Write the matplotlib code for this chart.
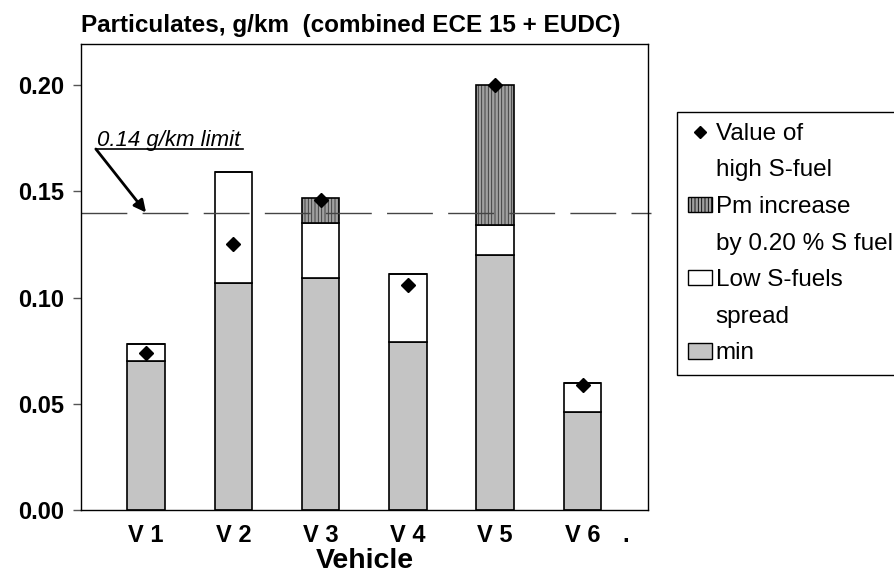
import numpy as np
import matplotlib.pyplot as plt
from matplotlib.patches import Patch
from matplotlib.lines import Line2D

plt.rcParams['font.family'] = ['Liberation Sans', 'DejaVu Sans']
plt.rcParams['hatch.linewidth'] = 0.6

vehicles = ['V 1', 'V 2', 'V 3', 'V 4', 'V 5', 'V 6']
pm_min = [0.070, 0.107, 0.109, 0.079, 0.120, 0.046]
low_s_top = [0.078, 0.159, 0.135, 0.111, 0.134, 0.060]
high_s_top = [0.078, 0.159, 0.147, 0.111, 0.200, 0.060]
high_s_value = [0.074, 0.125, 0.146, 0.106, 0.200, 0.059]
limit = 0.14

x = np.arange(len(vehicles))
pm_min = np.array(pm_min)
spread = np.array(low_s_top) - pm_min
increase = np.maximum(np.array(high_s_top) - np.array(low_s_top), 0)

fig = plt.figure(figsize=(8.95, 5.8), dpi=100)
ax = fig.add_axes([0.0905, 0.1207, 0.6335, 0.8034])

w = 0.43
ax.bar(x, pm_min, w, color='#c4c4c4', edgecolor='black', lw=1.2)
ax.bar(x, spread, w, bottom=pm_min, color='white', edgecolor='black', lw=1.2)
ax.bar(x, increase, w, bottom=pm_min + spread, color='#a0a0a0', edgecolor='#333333',
       hatch='|||||', lw=0)
ax.bar(x, increase, w, bottom=pm_min + spread, fill=False, edgecolor='black', lw=1.2)
ax.plot(x, high_s_value, ls='', marker='D', color='black', ms=7.5, zorder=5)

# 0.14 g/km limit line, a touch past the right spine as in the original
ax.axhline(limit, xmax=1.005, color='#444444', lw=1, dashes=(33, 11), zorder=1, clip_on=False)

ax.annotate('', xy=(0.0, limit), xytext=(-0.575, 0.1699),
            arrowprops=dict(arrowstyle='-|>', color='black', lw=2, mutation_scale=18,
                            shrinkA=0, shrinkB=0))
ax.plot([-0.575, 1.11], [0.1699, 0.1699], color='black', lw=1.2)
ax.text(-0.56, 0.1712, '0.14 g/km limit', fontsize=16, style='italic', va='baseline')

ax.set_xlim(-0.745, 5.75)
ax.set_ylim(0, 0.2193)
ax.set_yticks([0.0, 0.05, 0.10, 0.15, 0.20])
ax.set_yticklabels(['0.00', '0.05', '0.10', '0.15', '0.20'], fontsize=17, fontweight='bold')
ax.set_xticks(x)
ax.set_xticklabels(vehicles, fontsize=17, fontweight='bold')
ax.tick_params(axis='x', length=0, pad=10)
ax.tick_params(axis='y', length=6, color='#555555', width=1, pad=6)
ax.annotate('.', xy=(5.5, 0), xycoords=('data', 'axes fraction'), xytext=(0, -10),
            textcoords='offset points', fontsize=17, fontweight='bold', ha='center', va='top')
ax.set_xlabel('Vehicle', fontsize=20.5, fontweight='bold', labelpad=1)
ax.set_title('Particulates, g/km  (combined ECE 15 + EUDC)', loc='left',
             fontsize=17.5, fontweight='bold', pad=9)
for s in ax.spines.values():
    s.set_linewidth(1)

blank = Line2D([], [], ls='none')
handles = [Line2D([], [], ls='none', marker='D', color='black', ms=6), blank,
           Patch(facecolor='#a0a0a0', edgecolor='black', hatch='|||||'), blank,
           Patch(facecolor='white', edgecolor='black'), blank,
           Patch(facecolor='#c4c4c4', edgecolor='black')]
labels = ['Value of', 'high S-fuel', 'Pm increase', 'by 0.20 % S fuel',
          'Low S-fuels', 'spread', 'min']
leg = fig.legend(handles, labels, loc='upper left', bbox_to_anchor=(0.756, 0.807),
                 fontsize=17.5, frameon=True, fancybox=False, framealpha=1,
                 edgecolor='black', handlelength=1.0, handleheight=0.6,
                 handletextpad=0.15, borderpad=0.45, labelspacing=0.6, borderaxespad=0)
leg.get_frame().set_linewidth(1)

fig.savefig('out.png', dpi=100)
